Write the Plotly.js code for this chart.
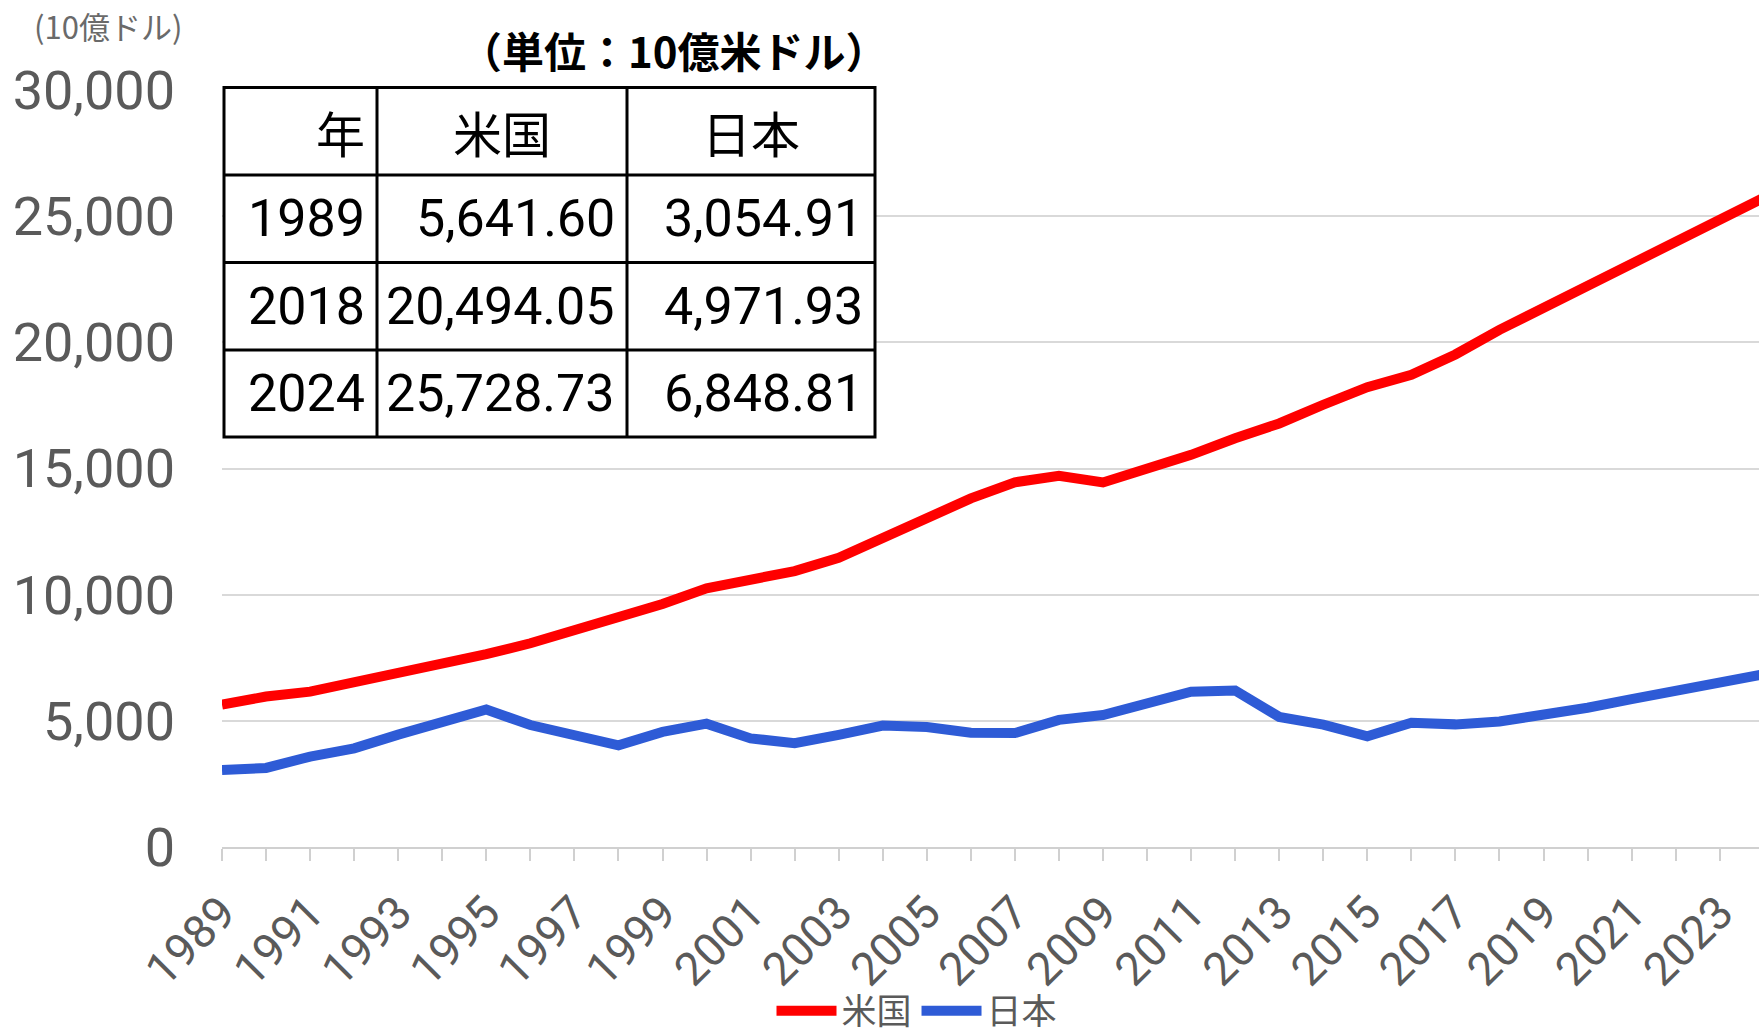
<!DOCTYPE html>
<html>
<head>
<meta charset="utf-8">
<script src="https://cdn.plot.ly/plotly-3.0.1.min.js"></script>
<style>
  html, body { margin: 0; padding: 0; background: #ffffff; }
  #chart { width: 1759px; height: 1034px; }
</style>
</head>
<body>
<div id="chart"></div>
<script>
// ---- data (10億米ドル) ----
const years = [1989,1990,1991,1992,1993,1994,1995,1996,1997,1998,1999,2000,
               2001,2002,2003,2004,2005,2006,2007,2008,2009,2010,2011,2012,
               2013,2014,2015,2016,2017,2018,2019,2020,2021,2022,2023,2024];
const usGDP = [5641.6, 5963.1, 6158.1, 6520.3, 6858.6, 7287.2, 7639.7, 8073.1,
               8577.6, 9062.8, 9631.2, 10251.0, 10581.8, 10936.4, 11458.2, 12213.7,
               13036.6, 13814.6, 14451.9, 14712.8, 14448.9, 14992.1, 15542.6, 16197.0,
               16784.9, 17527.3, 18224.8, 18715.0, 19519.4, 20494.05, 21370, 22200,
               23050, 23900, 24800, 25728.73];
const jpGDP = [3054.91, 3132.8, 3584.4, 3908.8, 4454.1, 4907.0, 5449.1, 4833.7,
               4414.7, 4032.5, 4562.1, 4887.5, 4303.5, 4115.1, 4445.7, 4815.1,
               4755.4, 4530.4, 4515.3, 5037.9, 5231.4, 5700.1, 6157.5, 6203.2,
               5155.7, 4850.4, 4389.5, 4926.7, 4859.9, 4971.93, 5200, 5520,
               5860, 6180, 6510, 6848.81];
const seriesNames = ['米国', '日本'];

// table
const tableHeader = ['年', '米国', '日本'];
const tableYears = ['1989', '2018', '2024'];
const tableUS = [5641.60, 20494.05, 25728.73];
const tableJP = [3054.91, 4971.93, 6848.81];

// texts
const unitText = '(10億ドル)';
const tableTitle = '（単位：10億米ドル）';

// ---- layout geometry ----
const W = 1759, H = 1034;
const mL = 222, mR = 0, mT = 90, mB = 187;
const plotW = W - mL - mR, plotH = H - mT - mB;
const px2x = p => (p - mL) / plotW;
const px2y = p => (H - mB - p) / plotH;

const gray = '#5a5a5a';
const fmt = v => v.toLocaleString('en-US', { minimumFractionDigits: 2, maximumFractionDigits: 2 });

// table geometry (pixels)
const colEdges = [224, 377, 627, 875];
const rowEdges = [87.5, 175, 262.5, 350, 437];
const headerAlign = ['right', 'center', 'center'];
const cellPad = 10;

const traces = [
  {
    type: 'scatter', mode: 'lines', name: seriesNames[0],
    x: years, y: usGDP,
    line: { color: '#ff0000', width: 10 },
    hoverinfo: 'x+y'
  },
  {
    type: 'scatter', mode: 'lines', name: seriesNames[1],
    x: years, y: jpGDP,
    line: { color: '#2e5bd6', width: 10 },
    hoverinfo: 'x+y'
  }
];

// ---- table drawn as shapes + annotations ----
const shapes = [];
const lineStyle = { color: '#000000', width: 3 };
shapes.push({
  type: 'rect', xref: 'paper', yref: 'paper', layer: 'above',
  x0: px2x(colEdges[0]), x1: px2x(colEdges[colEdges.length - 1]),
  y0: px2y(rowEdges[0]), y1: px2y(rowEdges[rowEdges.length - 1]),
  fillcolor: '#ffffff', line: lineStyle
});
for (let i = 1; i < colEdges.length - 1; i++) {
  shapes.push({ type: 'line', xref: 'paper', yref: 'paper', layer: 'above',
    x0: px2x(colEdges[i]), x1: px2x(colEdges[i]),
    y0: px2y(rowEdges[0]), y1: px2y(rowEdges[rowEdges.length - 1]), line: lineStyle });
}
for (let j = 1; j < rowEdges.length - 1; j++) {
  shapes.push({ type: 'line', xref: 'paper', yref: 'paper', layer: 'above',
    x0: px2x(colEdges[0]), x1: px2x(colEdges[colEdges.length - 1]),
    y0: px2y(rowEdges[j]), y1: px2y(rowEdges[j]), line: lineStyle });
}

const tableFont = { family: 'Roboto, Noto Sans CJK JP, sans-serif', size: 52, color: '#000000' };
const headFont = { family: 'Noto Sans CJK JP, sans-serif', size: 49, color: '#000000' };

const annotations = [];
function cellAnno(text, col, row, align, font) {
  const left = colEdges[col], right = colEdges[col + 1];
  let x, xa;
  if (align === 'right') { x = right - cellPad; xa = 'right'; }
  else if (align === 'center') { x = (left + right) / 2; xa = 'center'; }
  else { x = left + cellPad; xa = 'left'; }
  const yc = (rowEdges[row] + rowEdges[row + 1]) / 2;
  annotations.push({
    text: text, showarrow: false, xref: 'paper', yref: 'paper',
    x: px2x(x), xanchor: xa, y: px2y(yc), yanchor: 'middle',
    font: font
  });
}
tableHeader.forEach((h, c) => cellAnno(h, c, 0, headerAlign[c], headFont));
const tableCols = [tableYears, tableUS.map(fmt), tableJP.map(fmt)];
tableCols.forEach((col, c) => col.forEach((v, r) => cellAnno(v, c, r + 1, 'right', tableFont)));

annotations.push({
  text: unitText, showarrow: false,
  xref: 'paper', yref: 'paper',
  x: px2x(32), xanchor: 'left',
  y: px2y(25), yanchor: 'middle',
  font: { family: 'Noto Sans CJK JP, sans-serif', size: 31, color: '#6a6a6a' }
});
annotations.push({
  text: tableTitle, showarrow: false,
  xref: 'paper', yref: 'paper',
  x: px2x(890), xanchor: 'right',
  y: px2y(50), yanchor: 'middle',
  font: { family: 'Noto Sans CJK JP, sans-serif', size: 42, color: '#000000', weight: 700 }
});

const layout = {
  width: W, height: H,
  margin: { l: mL, r: mR, t: mT, b: mB, pad: 0, autoexpand: false },
  paper_bgcolor: '#ffffff',
  plot_bgcolor: '#ffffff',
  showlegend: true,
  legend: {
    orientation: 'h',
    x: px2x(917), xanchor: 'center',
    y: px2y(1011), yanchor: 'middle',
    font: { family: 'Roboto, Noto Sans CJK JP, sans-serif', size: 35, color: gray },
    itemwidth: 60,
    bgcolor: 'rgba(0,0,0,0)'
  },
  xaxis: {
    range: [1989, 1989 + plotW / 44.05],
    tickmode: 'linear', tick0: 1989, dtick: 2,
    tickangle: -45,
    ticks: 'outside', ticklen: 12, tickwidth: 2, tickcolor: '#d0d0d0',
    minor: { tickmode: 'linear', tick0: 1989, dtick: 1, ticks: 'outside', ticklen: 12, tickwidth: 2, tickcolor: '#d0d0d0', showgrid: false },
    showgrid: false,
    zeroline: false,
    showline: true, linecolor: '#d0d0d0', linewidth: 2,
    tickfont: { family: 'Roboto, Arial, sans-serif', size: 46, color: gray },
    ticklabelstandoff: 6,
    automargin: false,
    fixedrange: true
  },
  yaxis: {
    range: [0, 30000],
    tickmode: 'linear', tick0: 0, dtick: 5000,
    tickformat: ',d',
    showgrid: true, gridcolor: '#d9d9d9', gridwidth: 2,
    zeroline: false,
    showline: false,
    ticks: '',
    tickfont: { family: 'Roboto, Arial, sans-serif', size: 54, color: gray },
    ticklabelstandoff: 46,
    automargin: false,
    fixedrange: true
  },
  shapes: shapes,
  annotations: annotations
};

Plotly.newPlot('chart', traces, layout, { displayModeBar: false, staticPlot: true });
</script>
</body>
</html>
